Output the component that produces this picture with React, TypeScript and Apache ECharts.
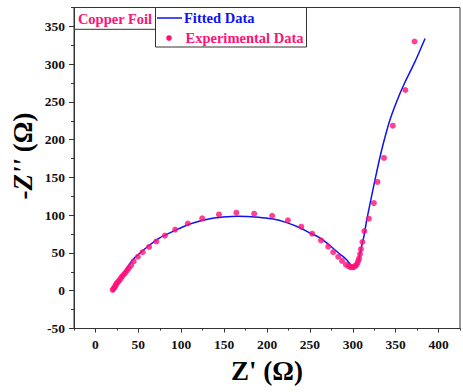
import React, { useEffect, useRef } from "react";
import * as echarts from "echarts";

// Experimental data (Z', -Z'')
const zReExp = [20, 21, 22, 23, 24, 25, 26.5, 28, 29.5, 31, 33, 35, 37, 39, 41.5, 44.5, 49.5, 55, 62.5, 71, 81, 93, 107.7, 124.5, 144, 164.3, 185, 206, 224.4, 240, 252.6, 263, 271.4, 277.2, 283, 287.5, 292, 295, 297, 299, 301, 302.5, 304, 305.5, 306.5, 307.4, 308.5, 309.5, 311.2, 313.5, 318.8, 324.6, 328.8, 336.4, 346.7, 361.3, 372];
const zImExp = [1, 2.5, 4, 6, 8, 10, 12, 14, 16.5, 19, 21.5, 24, 27, 30, 33.5, 38.8, 45, 51, 58, 65.3, 73, 81, 89, 95.8, 101, 103.3, 102, 99.3, 93.3, 84.8, 75.5, 66.6, 58.5, 51, 45, 39.5, 34.5, 32.5, 31.5, 31, 31.2, 32.5, 34, 36.5, 40, 43, 48.6, 55, 64.5, 79, 95.4, 116, 144, 175.8, 218.5, 265.8, 330];

// Fitted data
const zReFit = [20, 25, 32, 42.6, 50, 61.7, 75, 92.4, 107, 123, 138, 153.6, 165, 176.5, 192, 207.2, 222, 237.7, 249.2, 260.7, 270, 277.9, 285, 292, 298, 302, 305, 307, 309, 311, 313.5, 316, 319.2, 325.7, 333.4, 343, 351, 360, 372, 384.3];
const zImFit = [0, 8, 21, 39.7, 48, 59.2, 70, 79.5, 87, 92.7, 96.3, 98, 98.5, 98.4, 97, 95, 90.5, 83.8, 77, 70.6, 63, 55.2, 48.5, 42, 34, 32.5, 35, 42, 52, 62, 75, 92, 110, 145.7, 185, 225, 250, 274, 302, 334];

// Tick positions / labels
const xMajor = [0, 50, 100, 150, 200, 250, 300, 350, 400];
const xMinor = [-25, 25, 75, 125, 175, 225, 275, 325, 375, 425];
const yMajor = [-50, 0, 50, 100, 150, 200, 250, 300, 350];
const yMinor = [-25, 25, 75, 125, 175, 225, 275, 325, 375];

const PINK = "#ff1177";
const BLUE = "#1010f5";
const FONT = "Liberation Serif";
const AXIS = "#333";

export default function App() {
  const ref = useRef<HTMLDivElement>(null);
  useEffect(() => {
    document.body.style.margin = "0";
    const chart = echarts.init(ref.current!, undefined, { renderer: "svg" });
    const labelStyle = {
      fontFamily: FONT, fontWeight: "bold", fontSize: 13.5, color: "#111", margin: 9,
      formatter: (v: number) => (Math.round(v) % 50 === 0 ? String(Math.round(v)) : ""),
      hideOverlap: false,
    };
    chart.setOption({
      animation: false,
      backgroundColor: "#fff",
      grid: { left: 74, right: -3, top: 7.5, bottom: 63.5, show: true, borderColor: AXIS, borderWidth: 1 },
      xAxis: [
        {
          type: "value", position: "bottom", min: -25, max: 425, interval: 25,
          axisLine: { show: true, onZero: false, lineStyle: { color: AXIS, width: 1 } },
          axisTick: { show: true, inside: false, length: 4, customValues: xMajor, lineStyle: { color: AXIS } },
          axisLabel: labelStyle,
          splitLine: { show: false },
        },
        {
          type: "value", position: "bottom", min: -25, max: 425, interval: 25,
          axisLine: { show: false, onZero: false },
          axisTick: { show: true, length: 2, customValues: xMinor, lineStyle: { color: AXIS } },
          axisLabel: { show: false },
          splitLine: { show: false },
        },
      ],
      yAxis: [
        {
          type: "value", position: "left", min: -50, max: 375, interval: 25,
          axisLine: { show: true, onZero: false, lineStyle: { color: AXIS, width: 1 } },
          axisTick: { show: true, length: 5, customValues: yMajor, lineStyle: { color: AXIS } },
          axisLabel: labelStyle,
          splitLine: { show: false },
        },
        {
          type: "value", position: "left", min: -50, max: 375, interval: 25,
          axisLine: { show: false, onZero: false },
          axisTick: { show: true, length: 3, customValues: yMinor, lineStyle: { color: AXIS } },
          axisLabel: { show: false },
          splitLine: { show: false },
        },
      ],
      series: [
        {
          name: "Fitted Data", type: "line", xAxisIndex: 0, yAxisIndex: 0,
          data: zReFit.map((x, i) => [x, zImFit[i]]),
          showSymbol: false, smooth: 0.3,
          lineStyle: { color: BLUE, width: 1.5 }, z: 2,
        },
        {
          name: "Experimental Data", type: "scatter", xAxisIndex: 0, yAxisIndex: 0,
          data: zReExp.map((x, i) => [x, zImExp[i]]),
          symbol: "circle", symbolSize: 6,
          itemStyle: { color: PINK }, z: 3,
        },
      ],
      graphic: [
        { type: "rect", z: 10, shape: { x: 74.5, y: 7.5, width: 81, height: 21.8 }, style: { fill: "#fff", stroke: AXIS, lineWidth: 1 } },
        { type: "rect", z: 10, shape: { x: 155.5, y: 7.5, width: 151, height: 39.5 }, style: { fill: "#fff", stroke: AXIS, lineWidth: 1 } },
        { type: "text", z: 11, x: 115, y: 18.5, style: { text: "Copper Foil", fill: PINK, font: `bold 14.5px "${FONT}"`, textAlign: "center", textVerticalAlign: "middle" } },
        { type: "line", z: 11, shape: { x1: 157, y1: 18, x2: 182, y2: 18 }, style: { stroke: BLUE, lineWidth: 1.5 } },
        { type: "text", z: 11, x: 184, y: 18, style: { text: "Fitted Data", fill: BLUE, font: `bold 14.5px "${FONT}"`, textAlign: "left", textVerticalAlign: "middle" } },
        { type: "circle", z: 11, shape: { cx: 169, cy: 38, r: 2.8 }, style: { fill: PINK } },
        { type: "text", z: 11, x: 185.5, y: 37.5, style: { text: "Experimental Data", fill: PINK, font: `bold 14.5px "${FONT}"`, textAlign: "left", textVerticalAlign: "middle" } },
        { type: "text", z: 11, x: 267, y: 371, style: { text: "Z' (Ω)", fill: "#000", font: `bold 27px "${FONT}"`, textAlign: "center", textVerticalAlign: "middle" } },
        {
          type: "text", z: 11, x: 23, y: 156, rotation: Math.PI / 2,
          style: {
            text: "{a|-}{b|Z''}{a| (Ω)}",
            textAlign: "center", textVerticalAlign: "middle",
            rich: {
              a: { fontFamily: FONT, fontWeight: "bold", fontSize: 27, fill: "#000" },
              b: { fontFamily: FONT, fontWeight: "bold", fontStyle: "italic", fontSize: 27, fill: "#000" },
            },
          },
        },
      ],
    });
    return () => chart.dispose();
  }, []);
  return <div ref={ref} style={{ width: 463, height: 392, position: "absolute", left: 0, top: 0 }} />;
}
